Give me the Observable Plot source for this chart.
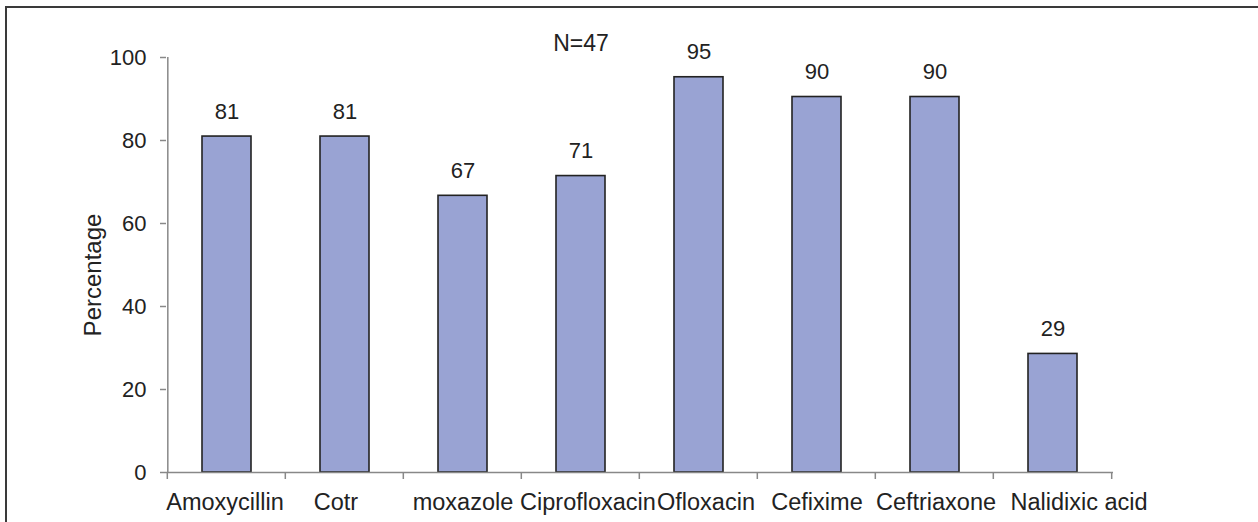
<!DOCTYPE html>
<html>
<head>
<meta charset="utf-8">
<script src="https://cdn.jsdelivr.net/npm/d3@7"></script>
<script src="https://cdn.jsdelivr.net/npm/@observablehq/plot@0.6"></script>
<style>
  html, body { margin: 0; padding: 0; background: #fff; overflow: hidden; }
  #wrap { position: relative; width: 1258px; height: 522px; }
  #border { position: absolute; left: 5px; top: 6px; width: 1400px; height: 700px;
            border-top: 2px solid #3a3a3a; border-left: 2px solid #3a3a3a; pointer-events: none; }
  svg { font-family: "Liberation Sans", Arial, sans-serif; }
</style>
</head>
<body>
<div id="wrap"><div id="border"></div><div id="chart"></div></div>
<script>
const categories = ["Amoxycillin", "Cotr", "moxazole", "Ciprofloxacin", "Ofloxacin", "Cefixime", "Ceftriaxone", "Nalidixic acid"];
const values = [80.95, 80.95, 66.67, 71.43, 95.24, 90.48, 90.48, 28.57];
const valueLabels = ["81", "81", "67", "71", "95", "90", "90", "29"];
const yTicks = [0, 20, 40, 60, 80, 100];
const annotation = { text: "N=47", category: "Ciprofloxacin", value: 100 };
const yLabel = "Percentage";

const data = categories.map((c, i) => ({ category: c, value: values[i], label: valueLabels[i] }));

const W = 1258, H = 522;
const mL = 166, mR = 145, mT = 57, mB = 50;
const step = (W - mL - mR) / categories.length;

// small horizontal nudges of the category labels (as in the original, where
// crowded labels are pushed apart)
const labelNudge = { "Amoxycillin": -2, "Cotr": -9, "moxazole": 0, "Ciprofloxacin": 7,
                     "Ofloxacin": 7, "Cefixime": 0, "Ceftriaxone": 1, "Nalidixic acid": 26 };

const chart = Plot.plot({
  width: W,
  height: H,
  marginLeft: mL,
  marginRight: mR,
  marginTop: mT,
  marginBottom: mB,
  style: { fontFamily: "'Liberation Sans', Arial, sans-serif", fontSize: "22px", color: "#222", background: "transparent" },
  x: { domain: categories, paddingInner: 0.585, paddingOuter: 0.2925, label: null, axis: null },
  y: { domain: [0, 100], label: null },
  marks: [
    Plot.barY(data, { x: "category", y: "value", fill: "#99a3d3", stroke: "#222", strokeWidth: 1.6 }),
    Plot.ruleY([0], { stroke: "#888", strokeWidth: 1.5 }),
    Plot.ruleX([0], { x: () => categories[0], y1: 0, y2: 100, dx: -step / 2, stroke: "#888", strokeWidth: 1.5 }),
    Plot.axisY({ ticks: yTicks, tickSize: 6, tickPadding: 14, stroke: "#888", strokeWidth: 1.5, fill: "#222", fontSize: 22, label: null }),
    ...categories.map(c => Plot.text([c], { x: d => d, frameAnchor: "bottom", lineAnchor: "middle", dy: 30, dx: labelNudge[c] || 0,
                                            text: d => d, fontSize: 23.5, fill: "#222" })),
    Plot.text(data, { x: "category", y: "value", text: "label", dy: -25, fontSize: 22, fill: "#222" }),
    Plot.text([annotation], { x: "category", y: "value", text: "text", dy: -14, fontSize: 23, fill: "#222" }),
    Plot.text([yLabel], { frameAnchor: "left", textAnchor: "middle", lineAnchor: "middle", rotate: -90, dx: -73, dy: 10, fontSize: 24, fill: "#222", text: d => d })
  ]
});
document.getElementById("chart").appendChild(chart);

// category boundary ticks below the axis, positioned with the chart's own x scale
const xs = chart.scale("x"), ys = chart.scale("y");
const svg = d3.select(chart);
const y0 = ys.apply(0);
const bounds = categories.map(c => xs.apply(c) + xs.bandwidth / 2 - step / 2);
bounds.push(xs.apply(categories[categories.length - 1]) + xs.bandwidth / 2 + step / 2);
svg.append("g").attr("stroke", "#888").attr("stroke-width", 1.5)
  .selectAll("line").data(bounds).join("line")
  .attr("x1", d => d).attr("x2", d => d).attr("y1", y0).attr("y2", y0 + 7);
</script>
</body>
</html>
